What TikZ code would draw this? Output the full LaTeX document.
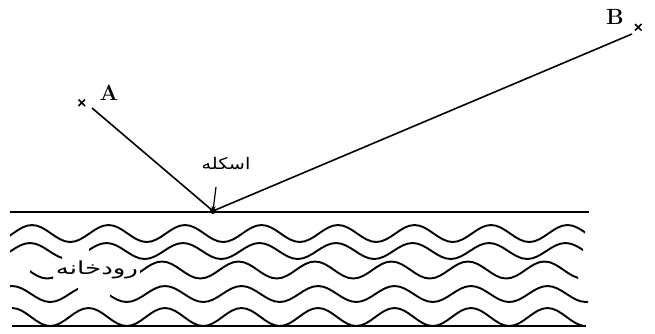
\documentclass[tikz,border=0pt]{standalone}
\usepackage{fontspec}
\newfontfamily\arabicfont[Script=Arabic]{DejaVu Sans}
\TeXXeTstate=1
\usetikzlibrary{arrows.meta}
% wave row: #1 first peak x (left of start), #2 centre y, #3 amplitude, #4 x from, #5 x to
\newcommand\waverow[5]{%
  \begin{scope}
    \clip (#4,#2-20) rectangle (#5,#2+20);
    \draw[wave] (#1-76.5,#2-#3) \foreach \k in {0,...,9}{
      cos ++(19.125,#3) sin ++(19.125,#3) cos ++(19.125,-#3) sin ++(19.125,-#3)};
  \end{scope}}
\begin{document}
\begin{tikzpicture}[x=1pt,y=-1pt,
  wave/.style={line width=1.9pt},
  shore/.style={line width=1.8pt},
  path/.style={line width=1.6pt},
  cross/.style={line width=1.5pt},
  letter/.style={font=\fontsize{22}{23}\selectfont\bfseries,inner sep=0pt},
  farsi/.style={inner sep=0pt}]
\useasboundingbox (0,0) rectangle (655,333);
% shores
\draw[shore] (10,212) -- (589,212);
\draw[shore] (12,326) -- (586,326);
% waves
\waverow{32}{233.5}{8.5}{10}{585}
\waverow{30}{251}{8}{10}{62}
\waverow{30}{251}{8}{89}{583}
\waverow{9}{270}{8.5}{30}{53}
\waverow{9}{270}{8.5}{140}{578}
\waverow{12}{294}{8}{10}{78}
\waverow{12}{294}{8}{110}{588}
\waverow{12}{317}{9}{12}{583}
% river label
\node[farsi] (river) at (97,270) {\scalebox{1.45}[1]{\arabicfont\fontsize{18}{19}\selectfont\beginR رودخانه\endR}};
% points
\coordinate (P) at (213,211);
\coordinate (A) at (92,108);
\coordinate (B) at (632,34);
\fill (P) circle (3);
\draw[path] (A) -- (P) -- (B);
% crosses
\draw[cross] (78.5,99.5) -- (85,106) (78.5,106) -- (85,99.5);
\draw[cross] (635,24) -- (641.5,30.5) (635,30.5) -- (641.5,24);
\node[letter] (la) at (109,92.5) {A};
\node[letter] (lb) at (615,16.5) {B};
% pier label
\node[farsi] (pier) at (226,164) {\scalebox{1.2}[1]{\arabicfont\fontsize{16}{17}\selectfont\beginR اسکله\endR}};
\draw[line width=1.2pt,-{Stealth[length=5pt,width=4.5pt]}] (216,187) -- (P);
\end{tikzpicture}
\end{document}
